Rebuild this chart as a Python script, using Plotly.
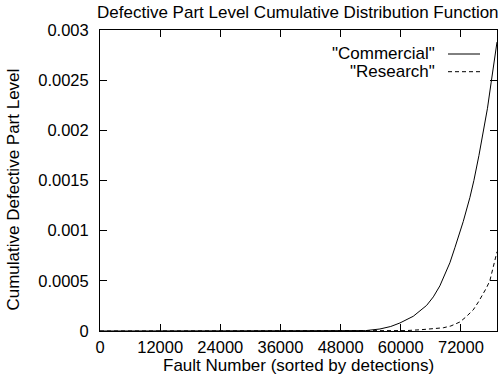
import plotly.graph_objects as go

# Data
commercial_x = [0, 50000, 53000, 55840, 58000, 59830, 62500, 65160, 66500, 67800, 69800, 70800,
                72460, 73790, 74590, 75600, 76580, 77300, 78040, 78900, 79200]
commercial_y = [0, 0, 0.000004, 0.00002, 0.000045, 0.00008, 0.000147, 0.000255, 0.00034, 0.00045,
                0.00068, 0.00083, 0.00109, 0.00133, 0.0015, 0.00175, 0.002, 0.00222, 0.00248,
                0.00278, 0.00288]

research_x = [0, 58000, 61000, 63800, 66000, 68470, 70000, 71800, 73000, 74450, 75500, 76430,
              77100, 77770, 78430, 79200]
research_y = [0, 0, 0.000004, 0.000012, 0.00002, 0.000032, 0.00005, 0.00009, 0.00014, 0.00021,
              0.00029, 0.00037, 0.00043, 0.0005, 0.00063, 0.00079]

x_ticks = [0, 12000, 24000, 36000, 48000, 60000, 72000]
y_ticks = [0, 0.0005, 0.001, 0.0015, 0.002, 0.0025, 0.003]
y_tick_labels = ["0", "0.0005", "0.001", "0.0015", "0.002", "0.0025", "0.003"]

FONT = "Liberation Sans, Arial, sans-serif"
TICK_SIZE = 16.5
TEXT_SIZE = 17

fig = go.Figure()
fig.add_trace(go.Scatter(x=commercial_x, y=commercial_y, mode="lines",
                         line=dict(color="black", width=1), name='"Commercial"'))
fig.add_trace(go.Scatter(x=research_x, y=research_y, mode="lines",
                         line=dict(color="black", width=1, dash="4px,3px"), name='"Research"'))

axis_common = dict(showline=True, linecolor="black", linewidth=1, mirror="ticks",
                   ticks="inside", ticklen=7, tickcolor="black", tickwidth=1,
                   showgrid=False, zeroline=False,
                   tickfont=dict(family=FONT, size=TICK_SIZE, color="black"))

fig.update_layout(
    width=499, height=379,
    margin=dict(l=100, r=2, t=30, b=48),
    paper_bgcolor="white", plot_bgcolor="white",
    showlegend=False,
    font=dict(family=FONT, size=TEXT_SIZE, color="black"),
    xaxis=dict(range=[0, 79200], tickvals=x_ticks, ticktext=[str(v) for v in x_ticks],
               ticklabelstandoff=1, **axis_common),
    yaxis=dict(range=[0, 0.003], tickvals=y_ticks, ticktext=y_tick_labels,
               ticklabelstandoff=7, **axis_common),
    title=dict(text="Defective Part Level Cumulative Distribution Function",
               xref="container", x=97 / 499, xanchor="left",
               yref="container", y=1 - 12.5 / 379, yanchor="middle",
               font=dict(family=FONT, size=TEXT_SIZE)),
)

# axis titles
fig.add_annotation(text="Fault Number (sorted by detections)", xref="paper", yref="paper",
                   x=0.5, y=-34.5 / 301, xanchor="center", yanchor="middle", showarrow=False,
                   font=dict(family=FONT, size=TEXT_SIZE, color="black"))
fig.add_annotation(text="Cumulative Defective Part Level", xref="paper", yref="paper",
                   x=-86 / 397, y=0.47, xanchor="center", yanchor="middle", showarrow=False,
                   textangle=-90, font=dict(family=FONT, size=TEXT_SIZE, color="black"))

# gnuplot-style key: right-aligned text followed by a line sample
key_text_x = (436.7 - 100) / 397
key_line_x0 = (448 - 100) / 397
key_line_x1 = (480 - 100) / 397
key_y1 = (331 - 54) / 301
key_y2 = (331 - 71.7) / 301
fig.add_annotation(text='"Commercial"', xref="paper", yref="paper", x=key_text_x, y=key_y1,
                   xanchor="right", yanchor="middle", showarrow=False,
                   font=dict(family=FONT, size=TEXT_SIZE, color="black"))
fig.add_annotation(text='"Research"', xref="paper", yref="paper", x=key_text_x, y=key_y2,
                   xanchor="right", yanchor="middle", showarrow=False,
                   font=dict(family=FONT, size=TEXT_SIZE, color="black"))
fig.add_shape(type="line", xref="paper", yref="paper", x0=key_line_x0, x1=key_line_x1,
              y0=key_y1, y1=key_y1, line=dict(color="black", width=1))
fig.add_shape(type="line", xref="paper", yref="paper", x0=key_line_x0, x1=key_line_x1,
              y0=key_y2, y1=key_y2, line=dict(color="black", width=1, dash="4px,3px"))

fig.write_html("out.html")
